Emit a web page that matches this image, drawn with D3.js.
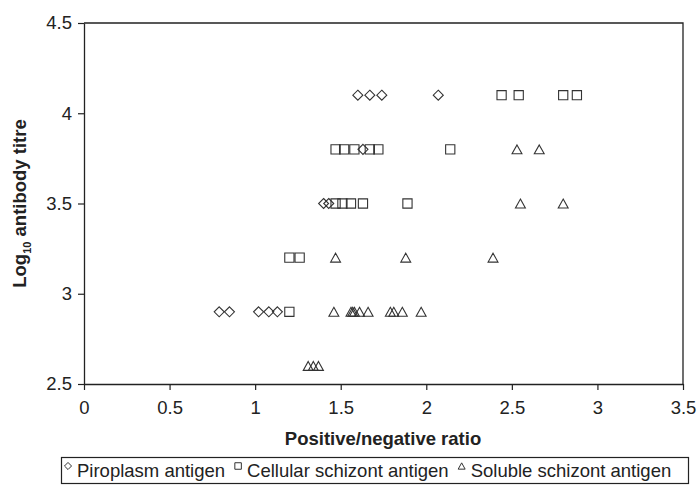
<!DOCTYPE html>
<html>
<head>
<meta charset="utf-8">
<script src="https://cdn.jsdelivr.net/npm/d3@7"></script>
<style>
  body { margin: 0; background: #fff; }
  svg { display: block; font-family: "Liberation Sans", Arial, sans-serif; }
</style>
</head>
<body>
<div id="chart"></div>
<script>
// values: [ratio, log10 titre]
const piroplasm = [
    [1.60, 4.1], [1.67, 4.1], [1.74, 4.1], [2.07, 4.1],
    [1.63, 3.8],
    [1.40, 3.5], [1.43, 3.5],
    [0.79, 2.9], [0.85, 2.9], [1.02, 2.9], [1.08, 2.9], [1.13, 2.9]];
const cellular = [
    [2.44, 4.1], [2.54, 4.1], [2.80, 4.1], [2.88, 4.1],
    [1.47, 3.8], [1.52, 3.8], [1.58, 3.8], [1.67, 3.8], [1.72, 3.8], [2.14, 3.8],
    [1.47, 3.5], [1.51, 3.5], [1.56, 3.5], [1.63, 3.5], [1.89, 3.5],
    [1.20, 3.2], [1.26, 3.2],
    [1.20, 2.9]];
const soluble = [
    [2.53, 3.8], [2.66, 3.8],
    [2.55, 3.5], [2.80, 3.5],
    [1.47, 3.2], [1.88, 3.2], [2.39, 3.2],
    [1.46, 2.9], [1.56, 2.9], [1.57, 2.9], [1.58, 2.9], [1.61, 2.9], [1.66, 2.9],
    [1.79, 2.9], [1.81, 2.9], [1.86, 2.9], [1.97, 2.9],
    [1.31, 2.6], [1.34, 2.6], [1.37, 2.6]];
const xTicks = [0, 0.5, 1, 1.5, 2, 2.5, 3, 3.5];
const yTicks = [2.5, 3, 3.5, 4, 4.5];
const seriesNames = ["Piroplasm antigen", "Cellular schizont antigen", "Soluble schizont antigen"];

const W = 698, H = 490;
const plot = {left: 84, right: 683, top: 23, bottom: 384};
const FS = 18.5;

// square-ish diamond (d3's own diamond is too narrow)
const symDiamond = {
    draw(ctx, size) {
        const r = Math.sqrt(size / 2);
        ctx.moveTo(0, -r); ctx.lineTo(r, 0); ctx.lineTo(0, r); ctx.lineTo(-r, 0); ctx.closePath();
    }
};
const symTriangle = {
    draw(ctx, size) {
        const w = Math.sqrt(size * 1.15);
        const h = w * 0.9;
        ctx.moveTo(0, -h / 2); ctx.lineTo(w / 2, h / 2); ctx.lineTo(-w / 2, h / 2); ctx.closePath();
    }
};
const series = [
    {name: seriesNames[0], data: piroplasm, type: symDiamond, size: 50},
    {name: seriesNames[1], data: cellular, type: d3.symbolSquare, size: 85},
    {name: seriesNames[2], data: soluble, type: symTriangle, size: 85}
];

const svg = d3.select("#chart").append("svg")
    .attr("width", W).attr("height", H);

const x = d3.scaleLinear().domain([0, 3.5]).range([plot.left, plot.right]);
const y = d3.scaleLinear().domain([2.5, 4.5]).range([plot.bottom, plot.top]);

// frame (top and right sides)
svg.append("path")
    .attr("d", `M${plot.left},${plot.top}H${plot.right}V${plot.bottom}`)
    .attr("fill", "none").attr("stroke", "#222").attr("stroke-width", 1.3);

const xAxis = svg.append("g")
    .attr("transform", `translate(0,${plot.bottom})`)
    .call(d3.axisBottom(x).tickValues(xTicks).tickSize(6).tickSizeOuter(0).tickPadding(11)
        .tickFormat(d3.format("")));
const yAxis = svg.append("g")
    .attr("transform", `translate(${plot.left},0)`)
    .call(d3.axisLeft(y).tickValues(yTicks).tickSize(6).tickSizeOuter(0).tickPadding(6)
        .tickFormat(d3.format("")));
[xAxis, yAxis].forEach(a => {
    a.select(".domain").attr("stroke", "#222").attr("stroke-width", 1.3);
    a.selectAll(".tick line").attr("stroke", "#222").attr("stroke-width", 1.2);
    a.selectAll("text").attr("fill", "#222").style("font-size", FS + "px")
        .style("font-family", "Liberation Sans, Arial, sans-serif");
});

// points
series.forEach(s => {
    svg.append("g").selectAll("path")
        .data(s.data)
        .join("path")
        .attr("transform", d => `translate(${x(d[0])},${y(d[1])})`)
        .attr("d", d3.symbol().type(s.type).size(s.size))
        .attr("fill", "none")
        .attr("stroke", "#333")
        .attr("stroke-width", 1.1);
});

// axis titles
svg.append("text")
    .attr("x", 383).attr("y", 445)
    .attr("text-anchor", "middle")
    .style("font-size", FS + "px").style("font-weight", "bold").attr("fill", "#222")
    .text("Positive/negative ratio");

const yt = svg.append("text")
    .attr("transform", `translate(26,${(plot.top + plot.bottom) / 2}) rotate(-90)`)
    .attr("text-anchor", "middle")
    .style("font-size", FS + "px").style("font-weight", "bold").attr("fill", "#222");
yt.append("tspan").text("Log");
yt.append("tspan").attr("dy", 5).style("font-size", "11px").text("10");
yt.append("tspan").attr("dy", -5).text(" antibody titre");

// legend
const leg = svg.append("g");
leg.append("rect")
    .attr("x", 61.5).attr("y", 457.5).attr("width", 627).attr("height", 26)
    .attr("fill", "#fff").attr("stroke", "#222").attr("stroke-width", 1.2);
let lx = 68;
series.forEach(s => {
    leg.append("path")
        .attr("transform", `translate(${lx},${466})`)
        .attr("d", d3.symbol().type(s.type).size(s.size * 0.5))
        .attr("fill", "none").attr("stroke", "#333").attr("stroke-width", 1);
    const t = leg.append("text")
        .attr("x", lx + 9).attr("y", 477)
        .style("font-size", FS + "px").attr("fill", "#222")
        .text(s.name);
    lx += 9 + t.node().getComputedTextLength() + 13;
});
</script>
</body>
</html>
